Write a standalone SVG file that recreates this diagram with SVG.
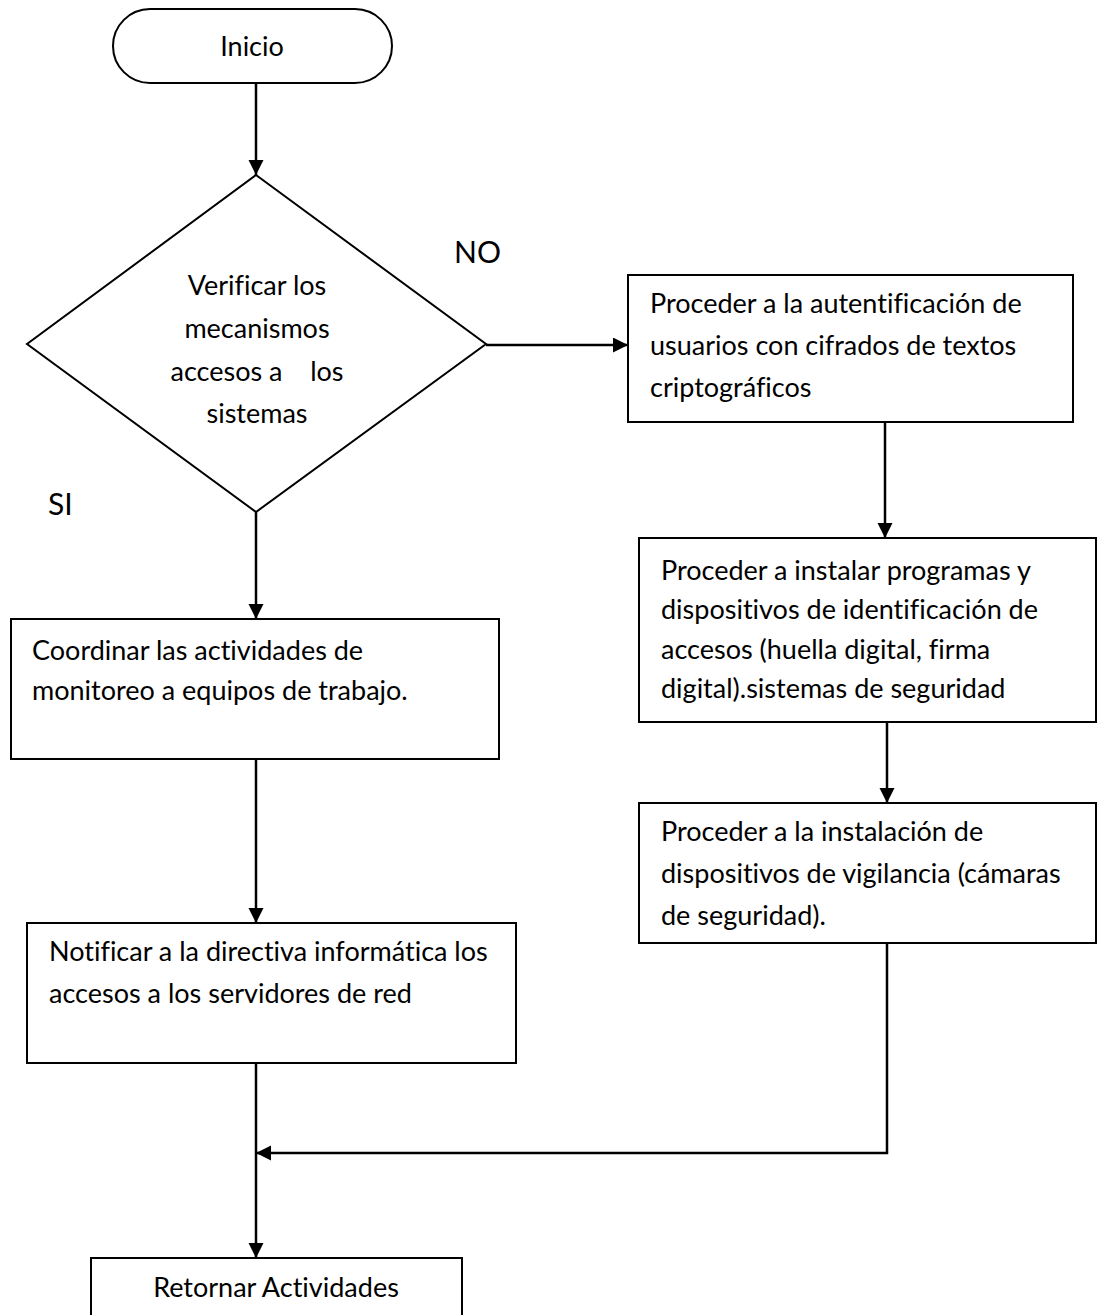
<svg xmlns="http://www.w3.org/2000/svg" width="1101" height="1315" viewBox="0 0 1101 1315">
<style>
.shape{fill:#fff;stroke:#000;stroke-width:2}
.t{font-family:Lato,"Liberation Sans",sans-serif;font-size:27px;fill:#000;font-variant-ligatures:none}
.c{text-anchor:middle}
.lbl{font-family:Lato,"Liberation Sans",sans-serif;font-size:30px;fill:#000}
.conn{fill:none;stroke:#000;stroke-width:2.5}
</style>
<defs>
<marker id="ah" markerUnits="userSpaceOnUse" markerWidth="16" markerHeight="16" refX="15" refY="7.5" orient="auto">
<path d="M0,0 L15,7.5 L0,15 z" fill="#000"/>
</marker>
</defs>
<rect width="1101" height="1315" fill="#fff"/>
<g id="connectors">
<path class="conn" d="M256,83 V175" marker-end="url(#ah)"/>
<path class="conn" d="M486,345 H628" marker-end="url(#ah)"/>
<path class="conn" d="M885,422 V538" marker-end="url(#ah)"/>
<path class="conn" d="M887,722 V803" marker-end="url(#ah)"/>
<path class="conn" d="M256,512 V619" marker-end="url(#ah)"/>
<path class="conn" d="M256,759 V923" marker-end="url(#ah)"/>
<path class="conn" d="M256,1063 V1258" marker-end="url(#ah)"/>
<path class="conn" d="M887,943 V1153 H256" marker-end="url(#ah)"/>
</g>
<g id="inicio">
<rect class="shape" x="113" y="9" width="279" height="74" rx="37"/>
<text class="t c" x="252" y="56">Inicio</text>
</g>
<g id="decision">
<polygon class="shape" points="256,175 486,344 256,512 27,344"/>
<text class="t c" x="257" y="295">Verificar los</text>
<text class="t c" x="257" y="338">mecanismos</text>
<text class="t c" x="257" y="381" xml:space="preserve">accesos a    los</text>
<text class="t c" x="257" y="423">sistemas</text>
</g>
<g id="label-no"><text class="lbl" x="454" y="263">NO</text></g>
<g id="label-si"><text class="lbl" x="48" y="515">SI</text></g>
<g id="autentificacion">
<rect class="shape" x="628" y="275" width="445" height="147"/>
<text class="t" x="650" y="313">Proceder a la autentificación de</text>
<text class="t" x="650" y="355">usuarios con cifrados de textos</text>
<text class="t" x="650" y="397">criptográficos</text>
</g>
<g id="instalar">
<rect class="shape" x="639" y="538" width="457" height="184"/>
<text class="t" x="661" y="580">Proceder a instalar programas y</text>
<text class="t" x="661" y="619">dispositivos de identificación de</text>
<text class="t" x="661" y="659">accesos (huella digital, firma</text>
<text class="t" x="661" y="698">digital).sistemas de seguridad</text>
</g>
<g id="vigilancia">
<rect class="shape" x="639" y="803" width="457" height="140"/>
<text class="t" x="661" y="841">Proceder a la instalación de</text>
<text class="t" x="661" y="883">dispositivos de vigilancia (cámaras</text>
<text class="t" x="661" y="925">de seguridad).</text>
</g>
<g id="coordinar">
<rect class="shape" x="11" y="619" width="488" height="140"/>
<text class="t" x="32" y="660">Coordinar las actividades de</text>
<text class="t" x="32" y="700">monitoreo a equipos de trabajo.</text>
</g>
<g id="notificar">
<rect class="shape" x="27" y="923" width="489" height="140"/>
<text class="t" x="49" y="961">Notificar a la directiva informática los</text>
<text class="t" x="49" y="1003">accesos a los servidores de red</text>
</g>
<g id="retornar">
<rect class="shape" x="91" y="1258" width="371" height="70"/>
<text class="t c" x="276" y="1297">Retornar Actividades</text>
</g>
</svg>
